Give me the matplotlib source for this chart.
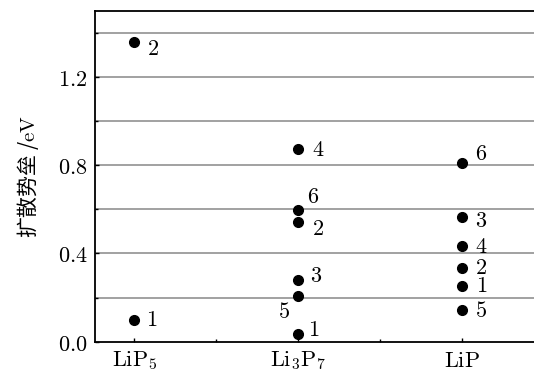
import matplotlib
matplotlib.use("Agg")
import matplotlib.pyplot as plt
import matplotlib.ticker as mticker

plt.rcParams["mathtext.fontset"] = "cm"
plt.rcParams["font.family"] = ["Noto Sans CJK SC", "DejaVu Sans"]

# Data
compounds = [r"$\mathrm{LiP}_5$", r"$\mathrm{Li}_3\mathrm{P}_7$", r"$\mathrm{LiP}$"]
lip5_paths = ["1", "2"]
lip5_barrier = [0.10, 1.36]
li3p7_paths = ["4", "6", "2", "3", "5", "1"]
li3p7_barrier = [0.873, 0.599, 0.543, 0.279, 0.208, 0.035]
lip_paths = ["6", "3", "4", "2", "1", "5"]
lip_barrier = [0.811, 0.565, 0.433, 0.336, 0.253, 0.143]

# label offsets in pixels (dx, dy) per path label
lip5_offsets = [(17, 0), (19, -7)]
li3p7_offsets = [(20, 0), (15, 13), (20, -7), (18, 5), (-14, -16), (15, 4)]
lip_offsets = [(19, 9), (19, -3), (19, 0), (19, 0), (19, 0), (19, 0)]

GRID = "#9a9a9a"
FS = 16

fig = plt.figure(figsize=(5.34, 3.69), dpi=100)
ax = fig.add_axes([0.177, 0.074, 0.823, 0.897])

for y in [0.2, 0.4, 0.6, 0.8, 1.0, 1.2, 1.4]:
    ax.axhline(y, color=GRID, linewidth=1.3, zorder=1)

groups = [
    (lip5_barrier, lip5_paths, lip5_offsets),
    (li3p7_barrier, li3p7_paths, li3p7_offsets),
    (lip_barrier, lip_paths, lip_offsets),
]
for i, (vals, labels, offs) in enumerate(groups):
    ax.plot([i] * len(vals), vals, "o", color="black", markersize=7, zorder=3)
    for v, lab, (dx, dy) in zip(vals, labels, offs):
        ax.annotate(f"${lab}$", (i, v), xytext=(dx, dy), textcoords="offset pixels",
                    ha="center", va="center", fontsize=FS, zorder=4)

ax.set_xlim(-0.243, 2.437)
ax.set_ylim(0, 1.5)

ax.set_xticks([0, 1, 2])
ax.set_xticklabels(compounds, fontsize=FS)
ax.set_xticks([0.5, 1.5], minor=True)
ax.yaxis.set_major_locator(mticker.MultipleLocator(0.4))
ax.yaxis.set_minor_locator(mticker.MultipleLocator(0.2))
ax.yaxis.set_major_formatter(mticker.FuncFormatter(lambda v, p: f"${v:.1f}$"))
ax.tick_params(axis="y", labelsize=FS)
ax.tick_params(which="both", direction="in", length=3, width=1, pad=5)
ax.tick_params(which="minor", length=2)

for side in ["left", "bottom", "top"]:
    ax.spines[side].set_linewidth(1.3)
ax.spines["right"].set_visible(False)

ax.set_ylabel(r"扩散势垒 /$\mathrm{eV}$", fontsize=15, labelpad=12)

fig.savefig("out.png", dpi=100)
